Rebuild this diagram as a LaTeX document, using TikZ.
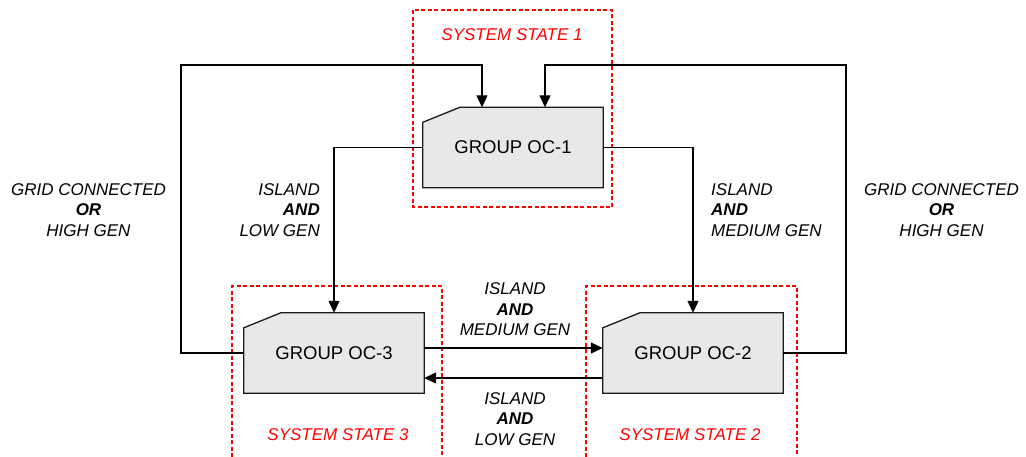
\documentclass[tikz,border=0pt]{standalone}
\usepackage{fontspec}
\setmainfont{Liberation Sans}
\usetikzlibrary{arrows.meta,calc}
\pgfdeclarelayer{background}
\pgfsetlayers{background,main}
\definecolor{boxfill}{HTML}{E8E8E8}
\definecolor{boxline}{HTML}{1A1A1A}
\tikzset{
  groupbox/.style={minimum width=180pt,minimum height=80pt,inner sep=0pt,
    font=\fontsize{18.5}{22}\selectfont},
  boxshape/.style={draw=boxline,fill=boxfill,line width=1.3pt,line join=miter},
  link/.style={draw=black,line width=1.2pt},
  arr/.style={link,-{Triangle[length=12pt,width=11pt]}},
  statebox/.style={draw=red,line width=1.1pt,dash pattern=on 4pt off 2.5pt},
  statelabel/.style={text=red,font=\fontsize{17}{20}\selectfont\itshape,inner sep=0pt},
  condlabel/.style={font=\fontsize{17}{20.5}\selectfont\itshape,inner sep=0pt},
}
\newcommand{\cond}[3]{#1\\{\bfseries #2}\\#3}
\begin{document}
\begin{tikzpicture}[x=1pt,y=-1pt]
  \useasboundingbox (0,0) rectangle (1026,456);
  \clip (0,0) rectangle (1026,456);

  % system state frames
  \draw[statebox] (413,10) rectangle (612,207);
  \draw[statebox] (232,470) -- (232,286) -- (442,286) -- (442,470);
  \draw[statebox] (586,470) -- (586,286) -- (797,286) -- (797,470);
  \node[statelabel] (s1) at (512,35) {SYSTEM STATE 1};
  \node[statelabel] (s3) at (338,435) {SYSTEM STATE 3};
  \node[statelabel] (s2) at (690,435) {SYSTEM STATE 2};

  % operating-condition groups
  \node[groupbox] (oc1) at (513,147.5) {GROUP OC-1};
  \node[groupbox] (oc3) at (334,353) {GROUP OC-3};
  \node[groupbox] (oc2) at (693,353) {GROUP OC-2};
  \begin{pgfonlayer}{background}
    \foreach \n in {oc1,oc2,oc3}{
      \draw[boxshape] (\n.south west) -- (\n.south east) -- (\n.north east)
        -- ($(\n.north west)+(37,0)$) -- ($(\n.north west)+(0,15)$) -- cycle;
    }
  \end{pgfonlayer}

  % transitions
  \coordinate (l1) at (181,353);
  \coordinate (l2) at (181,65);
  \coordinate (r1) at (846,353);
  \coordinate (r2) at (846,65);
  \draw[arr] (oc3.west) -- (l1) -- (l2) -- ([xshift=-31pt]oc1.north |- l2) -- ([xshift=-31pt]oc1.north);
  \draw[arr] (oc2.east) -- (r1) -- (r2) -- ([xshift=32pt]oc1.north |- r2) -- ([xshift=32pt]oc1.north);
  \draw[arr] (oc1.west) -| (oc3.north);
  \draw[arr] (oc1.east) -| (oc2.north);
  \draw[arr] ([yshift=5pt]oc3.east) -- ([yshift=5pt]oc2.west);
  \draw[arr] ([yshift=-25pt]oc2.west) -- ([yshift=-25pt]oc3.east);

  % transition conditions
  \node[condlabel,align=center] (c1) at (88.5,210) {\cond{GRID CONNECTED}{OR}{HIGH GEN}};
  \node[condlabel,align=right,anchor=east] (c2) at (320,210) {\cond{ISLAND}{AND}{LOW GEN}};
  \node[condlabel,align=left,anchor=west] (c3) at (711,210) {\cond{ISLAND}{AND}{MEDIUM GEN}};
  \node[condlabel,align=center] (c4) at (941.5,210) {\cond{GRID CONNECTED}{OR}{HIGH GEN}};
  \node[condlabel,align=center] (c5) at (515,309.5) {\cond{ISLAND}{AND}{MEDIUM GEN}};
  \node[condlabel,align=center] (c6) at (515,419) {\cond{ISLAND}{AND}{LOW GEN}};
\end{tikzpicture}
\end{document}
